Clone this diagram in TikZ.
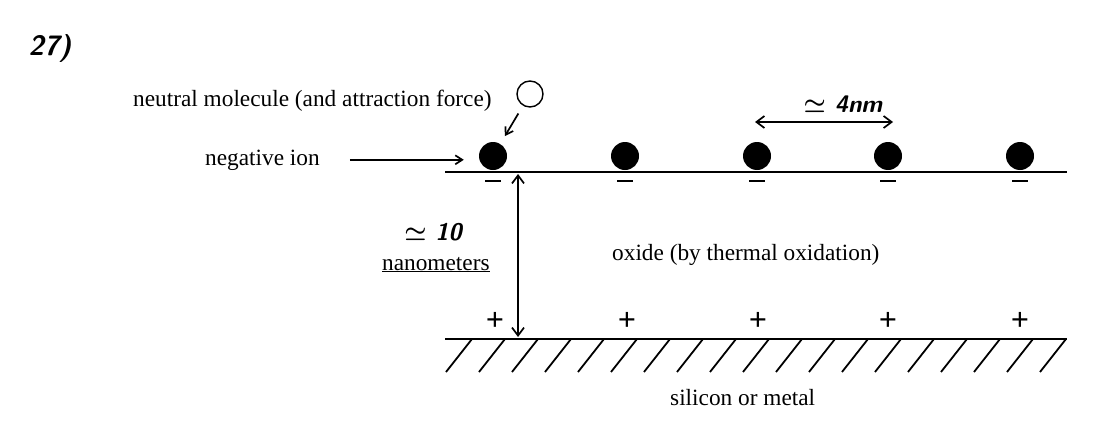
\documentclass[tikz,border=0pt]{standalone}
\usepackage{fontspec}
\setmainfont{Liberation Serif}
\usetikzlibrary{arrows.meta, positioning, calc}
\tikzset{
  font=\fontsize{23.3}{28}\selectfont,
  printlabel/.style={inner sep=0pt, anchor=base west},
  handlabel/.style={inner sep=0pt, font=\fontsize{24}{26}\selectfont\sffamily\itshape\bfseries\boldmath},
  ionball/.style={circle, fill=black, minimum size=28pt, inner sep=0pt},
  molball/.style={circle, draw=black, line width=1.4pt, minimum size=26pt, inner sep=0pt},
  surfline/.style={line width=2pt},
  chargemark/.style={inner sep=0pt, font=\fontsize{32}{32}\selectfont\bfseries},
  hatchline/.style={line width=1.8pt},
  pointer/.style={-{Straight Barb[length=7pt, width=9pt]}, line width=1.7pt},
  dimline/.style={{Straight Barb[length=8pt, width=12pt]}-{Straight Barb[length=8pt, width=12pt]}, line width=1.7pt}
}
\begin{document}
\begin{tikzpicture}[x=1pt, y=-1pt]
  \useasboundingbox (0,0) rectangle (1117,434);

  % Figure number
  \node[handlabel, font=\fontsize{28}{30}\selectfont\sffamily\itshape\bfseries] (fignum) at (50,48) {27)};

  % Labels on the left
  \node[printlabel] (neutl) at (133,106) {neutral molecule (and attraction force)};
  \node[printlabel] (negl) at (205,165) {negative ion};
  \node[molball] (mol) at (530,94) {};

  % Oxide surface with the ions
  \coordinate (topL) at (445,172);
  \coordinate (topR) at (1067,172);
  \draw[surfline] (topL) -- (topR);
  \foreach \i/\x in {1/493, 2/625, 3/757, 4/888, 5/1020} {
    \node[ionball] (ion\i) at (\x,156) {};
    \draw[surfline] ($(ion\i)+(-8,25)$) -- ++(16,0);
  }

  % Spacing between ions
  \node[handlabel] (spacel) at (843,104) {$\simeq$ 4nm};
  \coordinate (spaceA) at (755,122);
  \coordinate (spaceB) at (893,122);
  \draw[dimline] (spaceA) -- (spaceB);

  % Oxide thickness
  \coordinate (gapT) at (518,174);
  \coordinate (gapB) at (518,337);
  \draw[dimline] (gapT) -- (gapB);
  \node[handlabel] (thickl) at (433,232) {$\simeq$ 10};
  \node[printlabel] (nml) at (382,270) {\underline{nanometers}};
  \node[printlabel] (oxl) at (612,260) {oxide (by thermal oxidation)};

  % Substrate with the positive charges
  \foreach \i/\x in {1/495, 2/627, 3/758, 4/888, 5/1020}
    \node[chargemark] (pos\i) at (\x,321) {+};
  \coordinate (botL) at (445,339);
  \coordinate (botR) at (1067,339);
  \draw[surfline] (botL) -- (botR);
  \foreach \k in {0,...,18}
    \draw[hatchline] ({472+33*\k},339) -- ++(-26,33);
  \node[printlabel] (subl) at (670,405) {silicon or metal};

  % Pointers
  \draw[pointer, shorten <=9pt, shorten >=9pt] (mol) -- (ion1);
  \draw[pointer, shorten <=30pt, shorten >=15pt] (negl.east) -- (negl.east -| ion1.west);
\end{tikzpicture}
\end{document}
